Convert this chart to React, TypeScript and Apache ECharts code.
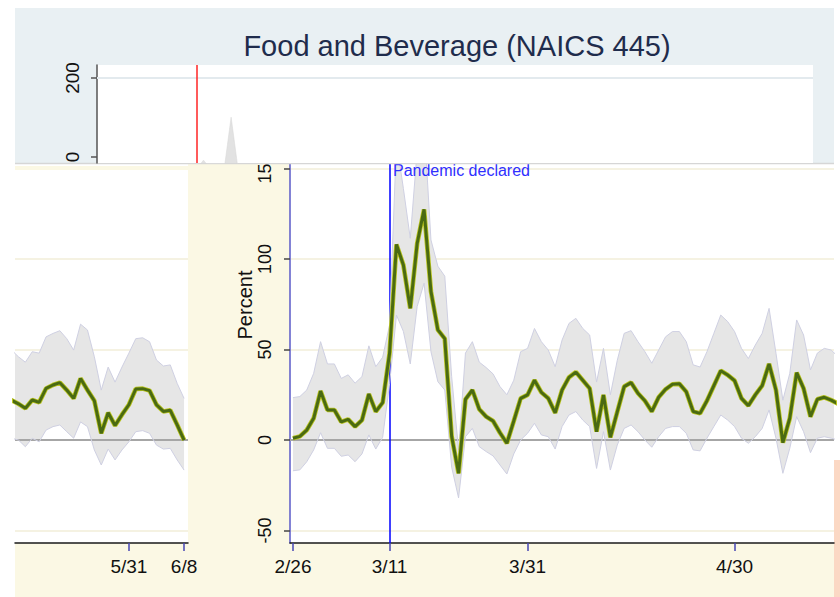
import React, { useEffect, useRef } from "react";
import * as echarts from "echarts";

// ---- data (daily, starting 2/26/2020) ----
const startDate = "2020-02-26";
const tickLabels = ["2/26", "3/11", "3/31", "4/30", "5/31", "6/8"];
const percentTicks = [-50, 0, 50, 100, 150];
const percentGrid = [-50, 50, 100, 150];
const topTicks = [0, 200];
const pandemicLabel = "3/11";

const estimate = [
  1, 2, 5.5, 12, 27, 16.6, 16.6, 10, 11.4, 7.4,
  11, 25.4, 15.7, 20.6, 47.9, 108, 96.7, 72.7, 108.5, 127.4,
  82, 60.8, 56, 2, -18.4, 22.5, 27.6, 17, 12.9, 10.5,
  4, -1.8, 10.5, 23, 24.9, 33, 26.3, 23, 15, 27.6,
  34.6, 37.5, 33, 28.5, 4.6, 24.9, 1.5, 15.5, 29.5, 31.7,
  25.8, 21.7, 15.7, 23.6, 28, 30.8, 31, 26.7, 15.7, 14.7,
  21.7, 30, 38.3, 35.9, 32.8, 23, 19, 24.9, 30, 42,
  27.6, -1.5, 12, 37.2, 28.5, 12.9, 22.5, 23.6, 22, 20,
  17.5, 22.1, 20.8, 28.5, 30.4, 31.7, 27.6, 23, 34, 27.6,
  21.7, 3.7, 15.1, 8, 14, 19.5, 28.2, 28.4, 27.3, 19.5,
  15.8, 16.4, 8.4, 0,
];
const upperCI = [
  23.4, 24, 27.6, 36.8, 54.3, 42, 42, 34, 36, 31.4,
  35, 52, 40.5, 45.7, 63.5, 165, 139, 111.4, 160, 175,
  110.5, 96, 90.5, 35, -5.5, 48, 54.3, 43, 40, 36.5,
  29.5, 25, 33, 48.8, 50.6, 61.6, 54.3, 49.7, 40.5, 55.2,
  64.4, 67.2, 61.6, 58, 32, 50.6, 25, 44, 58.9, 60.4,
  54.3, 48.8, 42.4, 49.7, 57, 59.9, 59.9, 54.3, 41.5, 40.3,
  48.8, 58.9, 69, 65.4, 59.9, 50.6, 45, 52.4, 58.9, 72.7,
  47.9, 22, 36.8, 66.3, 58, 38.7, 48, 50.6, 49.7, 46,
  43, 48.8, 48, 57, 58.9, 60.4, 56, 49.7, 64, 60.8,
  46, 27.6, 40.3, 32, 40.3, 48, 56, 56.5, 54.3, 44.2,
  40.9, 41.5, 31.3, 23,
];
const lowerCI = [
  -17, -16.5, -12, -5.5, 4, -4.6, -4.6, -9, -8.3, -12,
  -7.7, 2.8, -5, 1.5, 31, 69, 60, 42, 73.7, 86.6,
  48.8, 32.2, 27.6, -15, -32, 1.8, 6.4, -3.7, -6.4, -8.8,
  -13.8, -18.8, -7.7, 0, 3.7, 9.2, 2.8, 1.8, -5, 7.4,
  13.8, 15.7, 11, 7.4, -15.7, 4.6, -16.6, -2.8, 6.4, 8.3,
  4.6, 0, -4, 1.8, 6.4, 7.4, 7.4, 3.7, -5.5, -6,
  1, 7.4, 13.8, 11, 7.4, 1, -1.8, 1.8, 6.4, 16.6,
  1, -18.4, -4.6, 12.9, 4.6, -7, 1, 1.8, 1, 0,
  -3.7, 1, -1, 5.5, 7.4, 8.3, 4.6, 1, 10, 7.4,
  -5.5, -13.8, -5, -11, -5.5, -1, 4.6, 5.2, 3.7, -2.8,
  -5, -4.6, -11, -16.6,
];
// top (compressed) panel: visible grey spike
const topSpikeDays = [14, 15, 16, 18, 19, 20];
const topSpikeValues = [-30, -8, -30, -30, 101, -30];

// ---- helpers ----
const START = Date.parse(startDate + "T00:00:00Z");
const DAY = 86400000;
const dayOf = (label: string) => {
  const [m, d] = label.split("/").map(Number);
  return Math.round((Date.UTC(2020, m - 1, d) - START) / DAY);
};
const labelOf = (day: number) => {
  const dt = new Date(START + Math.round(day) * DAY);
  return `${dt.getUTCMonth() + 1}/${dt.getUTCDate()}`;
};
const tickDays = tickLabels.map(dayOf);
const pts = (arr: number[]) => arr.map((v, i) => [i, v]);

const FONT = "'Liberation Sans', Arial, Helvetica, sans-serif";

const MAIN_X = [-0.43, 78.41];
const LEFT_X = [78.5, 103.57];
const TOP_X = [-0.43, 103.3];
const MAIN_Y = [-56.9, 153];
const LEFT_Y = [-56.9, 149.2];
const TOP_Y = [-15.2, 233];

function xAxisFor(g: number, range: number[]) {
  const inRange = tickDays.filter((d) => d >= range[0] && d <= range[1]);
  return {
    type: "value",
    gridIndex: g,
    min: range[0],
    max: range[1],
    z: 3,
    axisLine: { show: true, onZero: false, lineStyle: { color: "#1a1a1a", width: 1.5 } },
    axisTick: { show: true, customValues: inRange, length: 8, lineStyle: { color: "#4646b4", width: 1.5 } },
    axisLabel: {
      show: true,
      customValues: inRange,
      formatter: (v: number) => labelOf(v),
      fontSize: 19,
      color: "#111",
      margin: 14,
      fontFamily: FONT,
    },
    splitLine: { show: false },
  };
}

function bandSeries(g: number, range: number[]) {
  const gridVals = g === 0 ? percentGrid : percentGrid.filter((v) => v < LEFT_Y[1]);
  const refLines: any[] = [{ yAxis: 0, lineStyle: { color: "#a6a6a6", width: 2, type: "solid" } }];
  if (g === 0) {
    refLines.push({ xAxis: dayOf(pandemicLabel), lineStyle: { color: "#0000ff", width: 1.5, type: "solid" } });
  }
  const common = { xAxisIndex: g, yAxisIndex: g, symbol: "none", silent: true, animation: false };
  return [
    {
      type: "custom",
      xAxisIndex: g,
      yAxisIndex: g,
      silent: true,
      clip: true,
      z: 3,
      data: [[(range[0] + range[1]) / 2, 0]],
      renderItem: (_params: any, api: any) => {
        const top = upperCI.map((u, i) => api.coord([i, u]));
        const bottom = lowerCI.map((l, i) => api.coord([i, l])).reverse();
        return {
          type: "polygon",
          shape: { points: top.concat(bottom) },
          style: { fill: "#e6e6e6", stroke: "none" },
        };
      },
    },
    {
      ...common,
      type: "line",
      data: pts(lowerCI),
      lineStyle: { color: "#cfd0e2", width: 1 },
      z: 4,
      markLine: {
        silent: true,
        symbol: ["none", "none"],
        label: { show: false },
        lineStyle: { color: "#f2eed8", width: 1.5, type: "solid" },
        data: gridVals.map((v) => ({ yAxis: v })),
        z: 2,
      },
    },
    {
      ...common,
      type: "line",
      data: pts(upperCI),
      lineStyle: { color: "#cfd0e2", width: 1 },
      z: 4,
      markLine: {
        silent: true,
        symbol: ["none", "none"],
        label: { show: false },
        data: refLines,
        z: 4,
      },
    },
    { ...common, type: "line", data: pts(estimate), lineStyle: { color: "#b9c41e", width: 4.6 }, z: 5 },
    { ...common, type: "line", data: pts(estimate), lineStyle: { color: "#4a6a12", width: 3 }, z: 6 },
  ];
}

function buildOption() {
  return {
    animation: false,
    backgroundColor: "#ffffff",
    textStyle: { fontFamily: FONT },
    grid: [
      { left: 290, top: 163, width: 544, height: 380, show: true, backgroundColor: "#ffffff", borderWidth: 0, z: 1 },
      { left: 15, top: 170, width: 173, height: 373, show: true, backgroundColor: "#ffffff", borderWidth: 0, z: 1 },
      { left: 97, top: 65, width: 716, height: 98, show: true, backgroundColor: "#ffffff", borderWidth: 0, z: 21 },
    ],
    xAxis: [
      xAxisFor(0, MAIN_X),
      xAxisFor(1, LEFT_X),
      { type: "value", gridIndex: 2, min: TOP_X[0], max: TOP_X[1], show: false },
    ],
    yAxis: [
      {
        type: "value",
        gridIndex: 0,
        min: MAIN_Y[0],
        max: MAIN_Y[1],
        z: 3,
        axisLine: { show: true, onZero: false, lineStyle: { color: "#5a5ac8", width: 1.5 } },
        axisTick: { show: true, customValues: percentTicks, length: 6, lineStyle: { color: "#444", width: 1.5 } },
        axisLabel: {
          show: true,
          customValues: percentTicks,
          rotate: 90,
          fontSize: 18,
          color: "#111",
          margin: 16,
          fontFamily: FONT,
        },
        splitLine: { show: false },
      },
      { type: "value", gridIndex: 1, min: LEFT_Y[0], max: LEFT_Y[1], show: false, splitLine: { show: false } },
      {
        type: "value",
        gridIndex: 2,
        min: TOP_Y[0],
        max: TOP_Y[1],
        z: 23,
        axisLine: { show: true, onZero: false, lineStyle: { color: "#555", width: 1.5 } },
        axisTick: { show: true, customValues: topTicks, length: 6, lineStyle: { color: "#555", width: 1.5 } },
        axisLabel: {
          show: true,
          customValues: topTicks,
          rotate: 90,
          fontSize: 19,
          color: "#111",
          margin: 15,
          fontFamily: FONT,
        },
        splitLine: { show: false },
      },
    ],
    series: [
      ...bandSeries(0, MAIN_X),
      ...bandSeries(1, LEFT_X),
      {
        type: "line",
        xAxisIndex: 2,
        yAxisIndex: 2,
        data: topSpikeDays.map((d, i) => [d, topSpikeValues[i]]),
        symbol: "none",
        silent: true,
        lineStyle: { color: "#d6d6d6", width: 0.5 },
        areaStyle: { color: "#e2e2e2", opacity: 1, origin: "start" },
        z: 24,
        markLine: {
          silent: true,
          symbol: ["none", "none"],
          label: { show: false },
          z: 24,
          data: [
            { yAxis: 200, lineStyle: { color: "#e3eaee", width: 2, type: "solid" } },
            { xAxis: dayOf(pandemicLabel), lineStyle: { color: "#ff2424", width: 1.5, type: "solid" } },
          ],
        },
      },
    ],
    graphic: [
      // lower panels backgrounds
      { type: "rect", z: 0, silent: true, shape: { x: 15, y: 166, width: 173, height: 431 }, style: { fill: "#fbf8e4" } },
      { type: "rect", z: 0, silent: true, shape: { x: 188, y: 163, width: 646, height: 434 }, style: { fill: "#fbf8e4" } },
      { type: "rect", z: 0, silent: true, shape: { x: 834, y: 460, width: 6, height: 137 }, style: { fill: "#fbd8c4" } },
      // top panel
      { type: "rect", z: 20, silent: true, shape: { x: 15, y: 8, width: 819, height: 155 }, style: { fill: "#e9f0f3" } },
      { type: "line", z: 20, silent: true, shape: { x1: 15, y1: 163.5, x2: 834, y2: 163.5 }, style: { stroke: "#d6d6d6", lineWidth: 1.5 } },
      {
        type: "text",
        z: 25,
        silent: true,
        x: 457,
        y: 46,
        style: {
          text: "Food and Beverage (NAICS 445)",
          fontSize: 29,
          fontFamily: FONT,
          fill: "#1f2c4c",
          align: "center",
          verticalAlign: "middle",
        },
      },
      {
        type: "text",
        z: 5,
        silent: true,
        x: 245,
        y: 305,
        rotation: Math.PI / 2,
        style: {
          text: "Percent",
          fontSize: 20,
          fontFamily: FONT,
          fill: "#111",
          align: "center",
          verticalAlign: "middle",
        },
      },
      {
        type: "text",
        z: 10,
        silent: true,
        x: 393,
        y: 170,
        style: {
          text: "Pandemic declared",
          fontSize: 16,
          fontFamily: FONT,
          fill: "#2f2fff",
          align: "left",
          verticalAlign: "middle",
        },
      },
    ],
  };
}

export default function App() {
  const ref = useRef<HTMLDivElement>(null);
  useEffect(() => {
    if (!ref.current) return;
    const chart = echarts.init(ref.current, null, { renderer: "svg" });
    chart.setOption(buildOption() as any);
    return () => chart.dispose();
  }, []);
  return (
    <div style={{ position: "fixed", left: 0, top: 0, width: 840, height: 597, background: "#fff" }}>
      <div ref={ref} style={{ width: 840, height: 597 }} />
    </div>
  );
}
